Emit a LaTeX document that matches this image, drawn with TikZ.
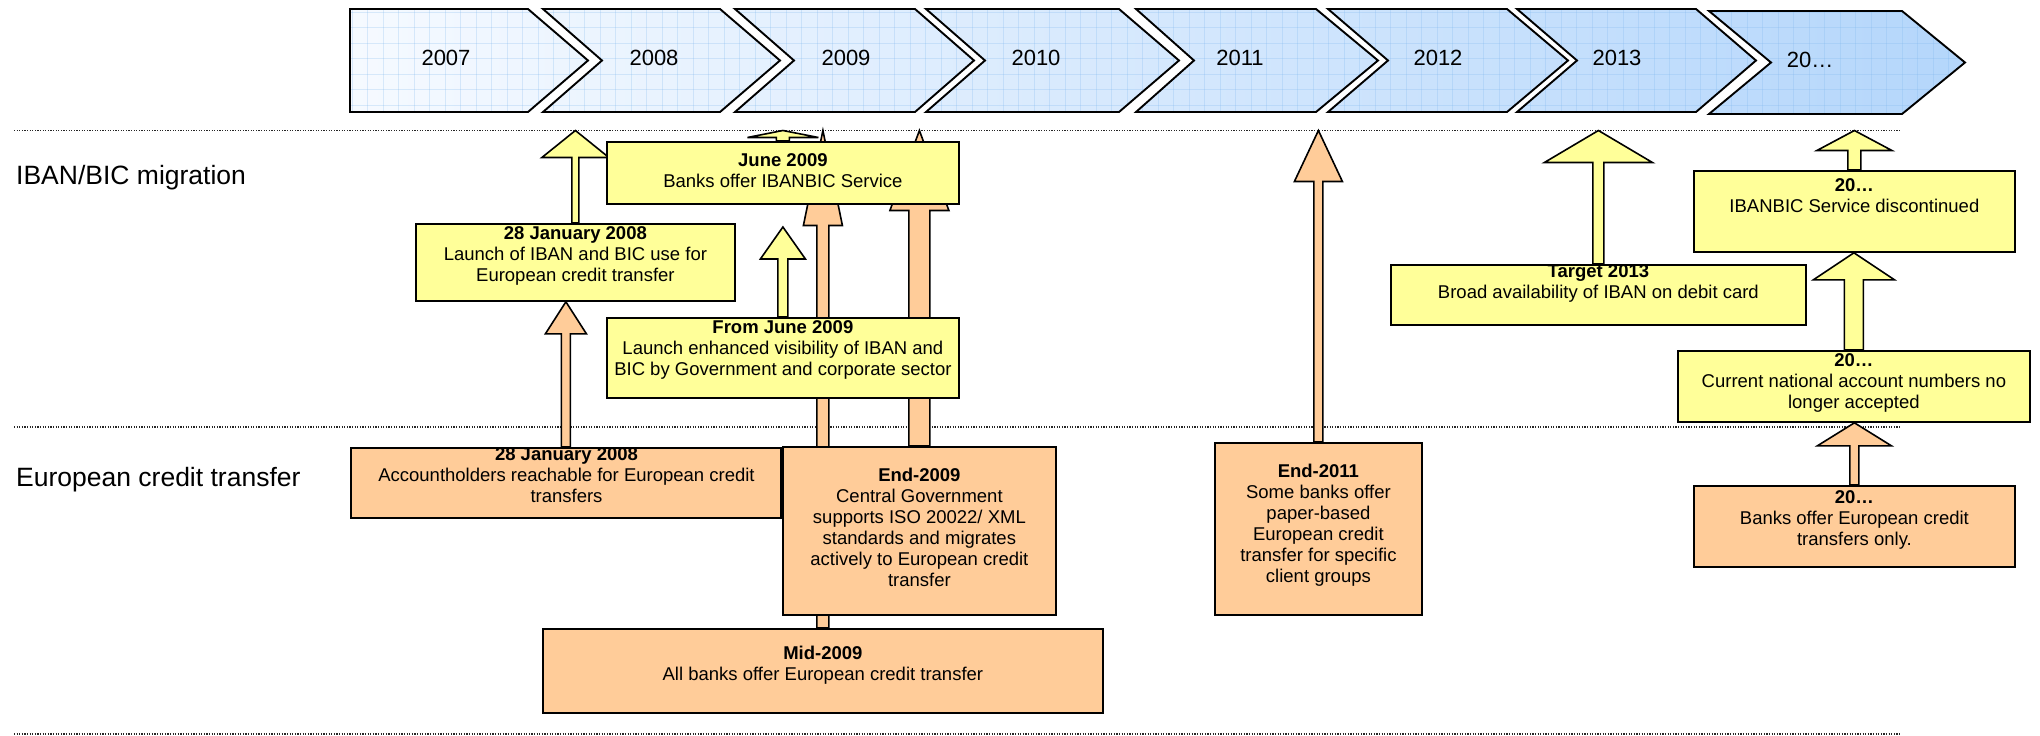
\documentclass[tikz,border=0pt]{standalone}
\usepackage{fontspec}
\setmainfont{Liberation Sans}
\usetikzlibrary{calc}

\definecolor{boxyellow}{HTML}{FFFF99}
\definecolor{boxorange}{HTML}{FFCC99}
\definecolor{chevlight}{HTML}{F6FAFF}
\definecolor{chevdark}{HTML}{B4D6FB}
\definecolor{chevgrid}{HTML}{7DB6EE}

\pgfdeclarelayer{guides}
\pgfdeclarelayer{arrows}
\pgfsetlayers{guides,arrows,main}

\newcommand{\boxfont}{\fontsize{18.5}{21}\selectfont}
\newcommand{\lanefont}{\fontsize{26.5}{30}\selectfont}
\newcommand{\yearfont}{\fontsize{22}{26}\selectfont}

% centred lines whose baseline is that of the first line
\newcommand{\boxlines}[1]{\begin{tabular}[t]{@{}c@{}}#1\end{tabular}}

% chevron: left x, right x, top y, bottom y, notch depth (0 = flat left side), tip depth
\newcommand{\chevron}[6]{(#1,#3) -- (#2,#3) -- ({#2+#6},{(#3+#4)/2}) -- (#2,#4) -- (#1,#4) -- ({#1+#5},{(#3+#4)/2}) -- cycle}

% upward block arrow from #2 (base) to #3 (tip): half shaft #4, half head #5, head length #6
\newcommand{\upblock}[6]{%
  \draw[#1] let \p1=#2, \p2=#3 in
    (\x1-#4pt,\y1) -- (\x1-#4pt,\y2-#6pt) -- (\x1-#5pt,\y2-#6pt) -- (\x1,\y2)
    -- (\x1+#5pt,\y2-#6pt) -- (\x1+#4pt,\y2-#6pt) -- (\x1+#4pt,\y1) -- cycle;}

\tikzset{
  box/.style={rectangle, draw=black, line width=1.8pt, inner sep=0pt, anchor=north west},
  ybox/.style={box, fill=boxyellow},
  obox/.style={box, fill=boxorange},
  boxtxt/.style={font=\boxfont, anchor=base, inner sep=0pt},
  yarrow/.style={draw=black, line width=1.6pt, fill=boxyellow, line join=miter},
  oarrow/.style={draw=black, line width=1.6pt, fill=boxorange, line join=miter},
  dotline/.style={line width=1.1pt, dash pattern=on 1.1pt off 1.5pt, draw=black!85},
  lane/.style={font=\lanefont, anchor=base west, inner sep=0pt},
  yearlbl/.style={font=\yearfont, anchor=base, inner sep=0pt},
  chevline/.style={draw=black, line width=1.9pt, line join=miter},
  gridln/.style={draw=chevgrid, line width=0.6pt, opacity=0.25},
}

\begin{document}
\begin{tikzpicture}[x=1pt,y=-1pt]
\useasboundingbox (0,0) rectangle (2040,736);

% ---------- year band ----------
\begin{scope}
  \clip \chevron{350}{528}{9}{112}{0}{60}
        \chevron{543}{720}{9}{112}{59}{60}
        \chevron{735}{915}{9}{112}{59}{59}
        \chevron{926}{1119}{9}{112}{59}{60}
        \chevron{1136}{1316}{9}{112}{58}{62}
        \chevron{1328}{1507}{9}{112}{60}{61}
        \chevron{1517}{1696}{9}{112}{60}{60}
        \chevron{1709}{1902}{11}{114}{62}{63};
  \shade[left color=chevlight, right color=chevdark] (340,0) rectangle (1975,120);
  \foreach \gx in {352,367.5,...,1975} \draw[gridln] (\gx,0) -- (\gx,120);
  \foreach \gy in {12,27.5,...,120} \draw[gridln] (340,\gy) -- (1975,\gy);
\end{scope}
\draw[chevline] \chevron{350}{528}{9}{112}{0}{60};
\draw[chevline] \chevron{543}{720}{9}{112}{59}{60};
\draw[chevline] \chevron{735}{915}{9}{112}{59}{59};
\draw[chevline] \chevron{926}{1119}{9}{112}{59}{60};
\draw[chevline] \chevron{1136}{1316}{9}{112}{58}{62};
\draw[chevline] \chevron{1328}{1507}{9}{112}{60}{61};
\draw[chevline] \chevron{1517}{1696}{9}{112}{60}{60};
\draw[chevline] \chevron{1709}{1902}{11}{114}{62}{63};

\node[yearlbl] (y2007) at (446,65) {2007};
\node[yearlbl] (y2008) at (654,65) {2008};
\node[yearlbl] (y2009) at (846,65) {2009};
\node[yearlbl] (y2010) at (1036,65) {2010};
\node[yearlbl] (y2011) at (1240,65) {2011};
\node[yearlbl] (y2012) at (1438,65) {2012};
\node[yearlbl] (y2013) at (1617,65) {2013};
\node[yearlbl] (y20xx) at (1810,67) {20…};

% ---------- lane separators and titles ----------
\coordinate (topline) at (14,130.5);
\coordinate (topline-e) at (1901,130.5);
\coordinate (midline) at (14,427);
\coordinate (midline-e) at (1901,427);
\coordinate (botline) at (14,734);
\coordinate (botline-e) at (1901,734);
\begin{pgfonlayer}{guides}
  \draw[dotline] (topline) -- (topline-e);
  \draw[dotline] (midline) -- (midline-e);
  \draw[dotline] (botline) -- (botline-e);
\end{pgfonlayer}

\node[lane] (lane-iban) at (16,184) {IBAN/BIC migration};
\node[lane] (lane-ect) at (16,486) {European credit transfer};

% ---------- milestone boxes ----------
\node[ybox, minimum width=352pt, minimum height=62pt] (june09) at (606,141) {};
\node[ybox, minimum width=319pt, minimum height=77pt] (jan08y) at (415,223) {};
\node[ybox, minimum width=352pt, minimum height=80pt] (fromjune) at (606,317) {};
\node[ybox, minimum width=415pt, minimum height=60pt] (target13) at (1390,264) {};
\node[ybox, minimum width=321pt, minimum height=81pt] (discont) at (1693,170) {};
\node[ybox, minimum width=352pt, minimum height=71pt] (natnum) at (1677,350) {};
\node[obox, minimum width=430pt, minimum height=70pt] (jan08o) at (350,447) {};
\node[obox, minimum width=273pt, minimum height=168pt] (end09) at (782,446) {};
\node[obox, minimum width=560pt, minimum height=84pt] (mid09) at (542,628) {};
\node[obox, minimum width=207pt, minimum height=172pt] (end11) at (1214,442) {};
\node[obox, minimum width=321pt, minimum height=81pt] (ectonly) at (1693,485) {};

\node[boxtxt] (june09-t) at ($(june09.north)+(0,25)$)
  {\boxlines{\textbf{June 2009}\\Banks offer IBANBIC Service}};
\node[boxtxt] (jan08y-t) at ($(jan08y.north)+(0,16)$)
  {\boxlines{\textbf{28 January 2008}\\Launch of IBAN and BIC use for\\European credit transfer}};
\node[boxtxt] (fromjune-t) at ($(fromjune.north)+(0,16)$)
  {\boxlines{\textbf{From June 2009}\\Launch enhanced visibility of IBAN and\\BIC by Government and corporate sector}};
\node[boxtxt] (target13-t) at ($(target13.north)+(0,13)$)
  {\boxlines{\textbf{Target 2013}\\Broad availability of IBAN on debit card}};
\node[boxtxt] (discont-t) at ($(discont.north)+(0,21)$)
  {\boxlines{\textbf{20…}\\IBANBIC Service discontinued}};
\node[boxtxt] (natnum-t) at ($(natnum.north)+(0,16)$)
  {\boxlines{\textbf{20…}\\Current national account numbers no\\longer accepted}};
\node[boxtxt] (jan08o-t) at (566.5,460)
  {\boxlines{\textbf{28 January 2008}\\Accountholders reachable for European credit\\transfers}};
\node[boxtxt] (end09-t) at ($(end09.north)+(0,35)$)
  {\boxlines{\textbf{End-2009}\\Central Government\\supports ISO 20022/ XML\\standards and migrates\\actively to European credit\\transfer}};
\node[boxtxt] (mid09-t) at ($(mid09.north)+(0,31)$)
  {\boxlines{\textbf{Mid-2009}\\All banks offer European credit transfer}};
\node[boxtxt] (end11-t) at ($(end11.north)+(0,35)$)
  {\boxlines{\textbf{End-2011}\\Some banks offer\\paper-based\\European credit\\transfer for specific\\client groups}};
\node[boxtxt] (ectonly-t) at ($(ectonly.north)+(0,18)$)
  {\boxlines{\textbf{20…}\\Banks offer European credit\\transfers only.}};

% ---------- block arrows (behind the boxes) ----------
\coordinate (fromjune-tip) at (782,227);
\begin{pgfonlayer}{arrows}
  \upblock{yarrow}{(jan08y.north)}{(jan08y.north |- topline)}{3.5}{33.5}{27}
  \upblock{oarrow}{(jan08o.north)}{(jan08o.north |- jan08y.south)}{4.5}{20.5}{32}
  \upblock{yarrow}{(fromjune.north)}{(fromjune-tip)}{5}{22.5}{32}
  \upblock{yarrow}{(june09.north)}{(june09.north |- topline)}{6.5}{35.5}{7}
  \upblock{oarrow}{(mid09.north)}{(mid09.north |- topline)}{6}{19.5}{95}
  \upblock{oarrow}{(end09.north)}{(end09.north |- topline)}{10.5}{29.5}{80}
  \upblock{oarrow}{(end11.north)}{(end11.north |- topline)}{4.5}{24}{51}
  \upblock{yarrow}{(target13.north)}{(target13.north |- topline)}{5.5}{54}{32}
  \upblock{yarrow}{(discont.north)}{(discont.north |- topline)}{6.5}{37.5}{20}
  \upblock{yarrow}{(natnum.north)}{(natnum.north |- discont.south)}{9.5}{40.5}{27}
  \upblock{oarrow}{(ectonly.north)}{(ectonly.north |- natnum.south)}{4.5}{37}{23}
\end{pgfonlayer}
\end{tikzpicture}
\end{document}
